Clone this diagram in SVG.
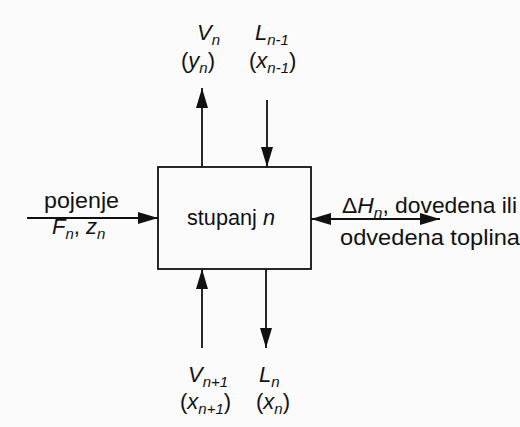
<svg xmlns="http://www.w3.org/2000/svg" width="520" height="427" viewBox="0 0 520 427">
<defs>
<marker id="big" viewBox="0 0 20 12" refX="20" refY="6" markerWidth="20" markerHeight="12" markerUnits="userSpaceOnUse" orient="auto-start-reverse">
<path d="M0,0 L20,6 L0,12 z" fill="#111"/>
</marker>
</defs>
<style>
text{font-family:"Liberation Sans",Arial,sans-serif;fill:#111;font-size:22px}
.i{font-style:italic}
.s{font-size:15px;font-style:italic}
line{stroke:#111;stroke-width:1.8}
</style>
<rect width="520" height="427" fill="#fbfbfb"/>
<g id="connectors">
<line x1="27" y1="218" x2="158" y2="218" marker-end="url(#big)"/>
<line x1="311" y1="219" x2="440" y2="219" marker-start="url(#big)" marker-end="url(#big)"/>
<line x1="202" y1="167" x2="202" y2="88" marker-end="url(#big)"/>
<line x1="267" y1="100" x2="267" y2="167" marker-end="url(#big)"/>
<line x1="202" y1="348" x2="202" y2="269" marker-end="url(#big)"/>
<line x1="266" y1="269" x2="266" y2="348" marker-end="url(#big)"/>
</g>
<g id="stage">
<rect x="158" y="167" width="153" height="102" fill="none" stroke="#111" stroke-width="1.8"/>
<text x="187" y="225" textLength="88" lengthAdjust="spacingAndGlyphs">stupanj <tspan class="i">n</tspan></text>
</g>
<g id="top-labels">
<text x="197" y="40" class="i">V<tspan class="s" dy="5">n</tspan></text>
<text x="181" y="68">(<tspan class="i">y</tspan><tspan class="s" dy="5">n</tspan><tspan dy="-5">)</tspan></text>
<text x="255" y="40" class="i">L<tspan class="s" dy="5">n-1</tspan></text>
<text x="249" y="68">(<tspan class="i">x</tspan><tspan class="s" dy="5">n-1</tspan><tspan dy="-5">)</tspan></text>
</g>
<g id="bottom-labels">
<text x="188" y="382" class="i">V<tspan class="s" dy="5">n+1</tspan></text>
<text x="180" y="409">(<tspan class="i">x</tspan><tspan class="s" dy="5">n+1</tspan><tspan dy="-5">)</tspan></text>
<text x="259" y="382" class="i">L<tspan class="s" dy="5">n</tspan></text>
<text x="256" y="409">(<tspan class="i">x</tspan><tspan class="s" dy="5">n</tspan><tspan dy="-5">)</tspan></text>
</g>
<g id="feed-label">
<text x="44" y="208" textLength="75" lengthAdjust="spacingAndGlyphs">pojenje</text>
<text x="52" y="234"><tspan class="i">F</tspan><tspan class="s" dy="5">n</tspan><tspan dy="-5">, </tspan><tspan class="i">z</tspan><tspan class="s" dy="5">n</tspan></text>
</g>
<g id="heat-label">
<text x="342" y="213" textLength="175" lengthAdjust="spacingAndGlyphs"><tspan>Δ</tspan><tspan class="i">H</tspan><tspan class="s" dy="5">n</tspan><tspan dy="-5">, dovedena ili</tspan></text>
<text x="340" y="245" textLength="180" lengthAdjust="spacingAndGlyphs">odvedena toplina</text>
</g>
</svg>
